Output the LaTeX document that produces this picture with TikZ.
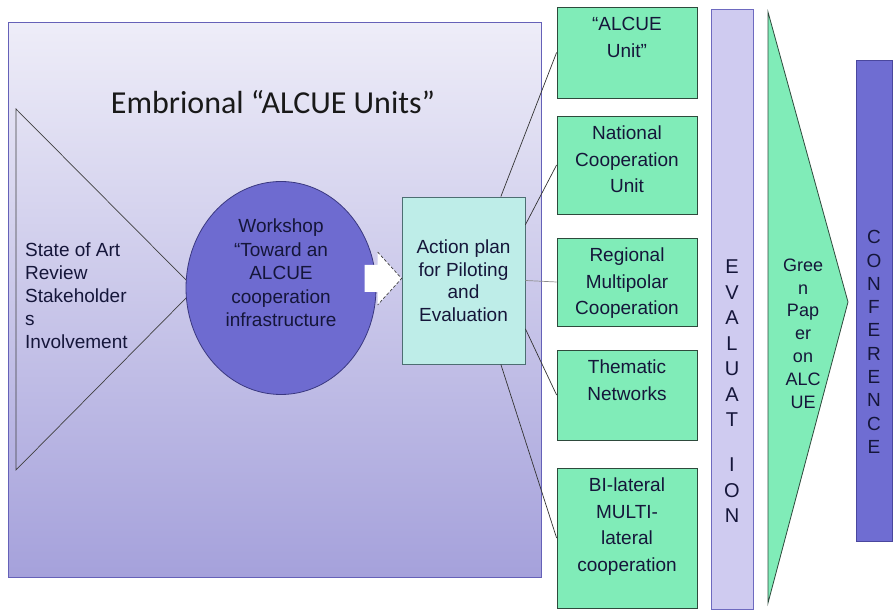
\documentclass[tikz,border=0pt]{standalone}
\usepackage{fontspec}
\setmainfont{Liberation Sans}
\newfontfamily\headfont{Carlito}
\usetikzlibrary{calc,arrows,shapes,positioning}
\definecolor{bgtop}{HTML}{EEEDF8}
\definecolor{bgmid}{HTML}{D9D7F0}
\definecolor{bgbottom}{HTML}{A5A1DB}
\definecolor{bgline}{HTML}{6561B8}
\definecolor{wsfill}{HTML}{6E6BD0}
\definecolor{wsline}{HTML}{3A3880}
\definecolor{planfill}{HTML}{BEEDE8}
\definecolor{planline}{HTML}{4D6E72}
\definecolor{unitfill}{HTML}{80ECB8}
\definecolor{unitline}{HTML}{2E4A3C}
\definecolor{evalfill}{HTML}{CFCBF0}
\definecolor{evalline}{HTML}{6E6AC0}
\definecolor{conffill}{HTML}{6F6DD2}
\definecolor{confline}{HTML}{4A479E}
\definecolor{ink}{HTML}{15163A}
\newcommand{\unittext}[2]{\parbox[c][#1][t]{140pt}{\centering\rule{0pt}{24pt}#2}}
\tikzset{
    frame/.style = {rectangle, draw=bgline, line width=0.9pt, top color=bgtop,
        middle color=bgmid, bottom color=bgbottom,
        minimum width=533pt, minimum height=555pt, inner sep=0pt},
    heading/.style = {font=\headfont\fontsize{32pt}{36pt}\selectfont, text=black!90},
    note/.style = {align=left, text=ink, inner sep=0pt,
        font=\fontsize{19pt}{23pt}\selectfont},
    workshop/.style = {ellipse, draw=wsline, fill=wsfill, line width=0.8pt,
        minimum width=190pt, minimum height=213pt},
    wstext/.style = {align=center, text=ink, font=\fontsize{19pt}{23.5pt}\selectfont},
    block/.style = {draw=planline, fill=planfill, rectangle, line width=0.8pt,
        minimum width=123pt, minimum height=167pt, align=center, text=ink,
        font=\fontsize{19pt}{22.5pt}\selectfont},
    unit/.style = {draw=unitline, fill=unitfill, rectangle, line width=0.8pt,
        inner sep=0pt, text=ink, font=\fontsize{19pt}{26.5pt}\selectfont},
    bar/.style = {rectangle, line width=0.8pt, inner sep=0pt},
    bartext/.style = {align=center, text=ink, inner sep=0pt},
    link/.style = {draw=black!80, line width=0.7pt},
    thinline/.style = {draw=black!75, line width=0.7pt}
}
\begin{document}
\begin{tikzpicture}[x=1pt, y=1pt, node distance=1cm, >=latex']
        \useasboundingbox (0,0) rectangle (894,612);
        \node [frame, anchor=south west, name=embrional] at (8,34) {};
        \node [heading, anchor=base, name=title] at (273,498) {Embrional “ALCUE Units”};
        % left triangle
        \coordinate (tritop) at (16,503);
        \coordinate (tribottom) at (16,142);
        \coordinate (triapex) at (195,323);
        \draw [thinline] (tritop) -- (triapex) -- (tribottom) -- cycle;
        \node [note, anchor=west, name=review] at (25,316) {State of Art\\Review\\Stakeholder\\s\\Involvement};
        \node [workshop, name=ws, label={[wstext, yshift=15pt]center:{Workshop\\“Toward an\\ALCUE\\cooperation\\infrastructure}}] at (281,324) {};
        \node [block, name=plan] at (463.5,331.5) {Action plan\\for Piloting\\and\\Evaluation};
        % white block arrow
        \coordinate (tip) at ($(plan.west)+(0,2)$);
        \fill [white] (tip) -- ++(-24,26.5) -- ++(0,-13) -- ++(-13,0) -- ++(0,-27) -- ++(13,0) -- ++(0,-13) -- cycle;
        \draw [thinline, densely dashed] ($(tip)+(-24,26.5)$) -- (tip) -- ($(tip)+(-24,-26.5)$);
        \node [unit, name=u1] at (627,559.5) {\unittext{91pt}{“ALCUE\\Unit”}};
        \node [unit, below of=u1, node distance=112.5pt, name=u2] {\unittext{98pt}{National\\Cooperation\\Unit}};
        \node [unit, below of=u2, node distance=117pt, name=u3] {\unittext{88pt}{Regional\\Multipolar\\Cooperation}};
        \node [unit, below of=u3, node distance=113pt, name=u4] {\unittext{90pt}{Thematic\\Networks}};
        \node [unit, below of=u4, node distance=143pt, name=u5] {\unittext{140pt}{BI-lateral\\MULTI-\\lateral\\cooperation}};
        \foreach \a/\b in {66/u1,42/u2,-38/u4,-66/u5}{
            \draw [link] (plan.\a) -- (\b.west);
        }
        \draw [link, draw=black!45] (plan.east) -- (u3.west);
        \node [bar, draw=evalline, fill=evalfill, minimum width=42pt, minimum height=600pt, name=eval,
            label={[bartext, yshift=-82.5pt, font=\fontsize{20pt}{25.5pt}\selectfont]center:{E\\V\\A\\L\\U\\A\\T\\[19.5pt]I\\O\\N}}] at (732,303) {};
        % green paper
        \coordinate (gptop) at (768,600);
        \coordinate (gpbottom) at (768,9);
        \coordinate (gpapex) at (848,310);
        \draw [draw=unitline, fill=unitfill, line width=0.8pt] (gptop) -- (gpapex) -- (gpbottom) -- cycle;
        \node [bartext, font=\fontsize{18pt}{22.8pt}\selectfont, name=paper] at (803,278.5) {Gree\\n\\Pap\\er\\on\\ALC\\UE};
        \node [bar, draw=confline, fill=conffill, minimum width=36pt, minimum height=481pt, name=conf,
            label={[bartext, yshift=-41.5pt, font=\fontsize{19pt}{23.3pt}\selectfont]center:{C\\O\\N\\F\\E\\R\\E\\N\\C\\E}}] at (874,311.5) {};
\end{tikzpicture}
\end{document}
